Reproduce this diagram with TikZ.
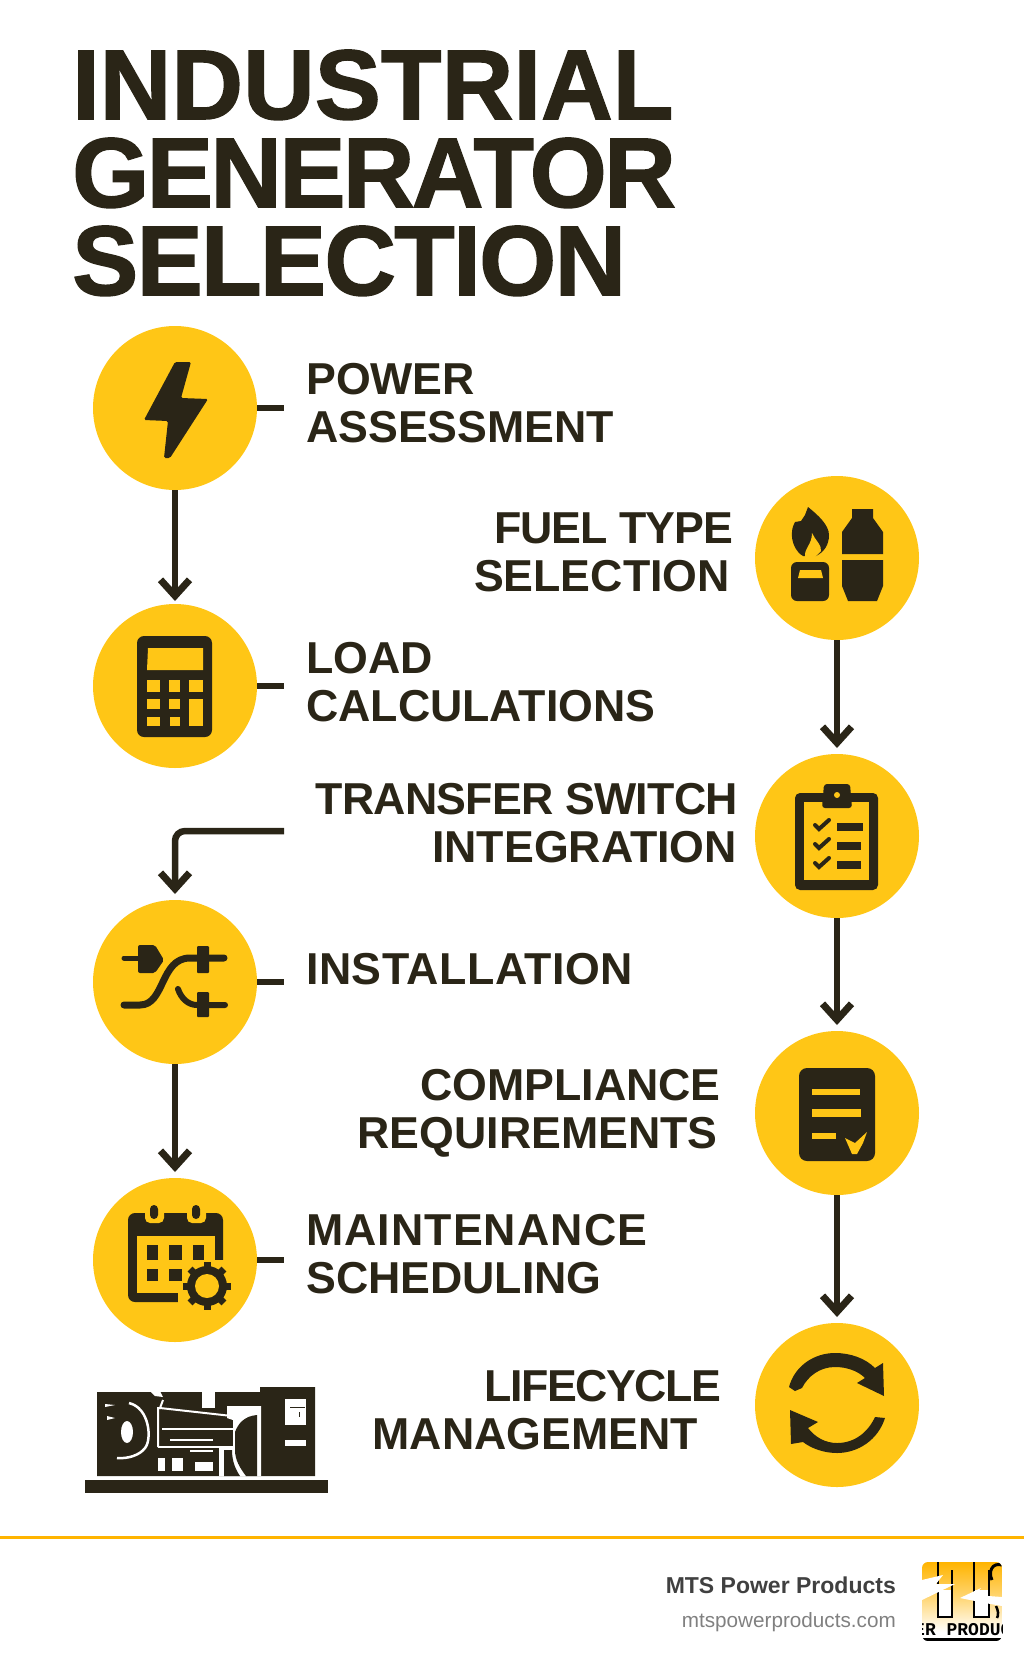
\documentclass[tikz,border=0pt]{standalone}
\usepackage{fontspec}
\setmainfont{Liberation Sans}
\newfontfamily\titlefont[BoldFeatures={FakeBold=1.5}]{Liberation Sans}
\newfontfamily\logofont{Liberation Mono}
\usetikzlibrary{arrows.meta}
\definecolor{genyellow}{HTML}{FFC616}
\definecolor{gendark}{HTML}{2A2517}
\definecolor{genrule}{HTML}{FFB400}
\newcommand\spaced[2]{{\addfontfeature{LetterSpace=#1}#2}}
\tikzset{
  stepdot/.style={circle,fill=genyellow,minimum size=164pt,inner sep=0pt,outer sep=0pt},
  steptext/.style={font=\fontsize{44.7}{47.8}\selectfont\bfseries,text=gendark,inner sep=0pt},
  titletext/.style={font=\fontsize{99}{88}\selectfont\titlefont\bfseries,text=gendark,inner sep=0pt,align=left},
  stub/.style={draw=gendark,line width=6pt},
  flow/.style={draw=gendark,line width=6.5pt,shorten >=6pt,-{Straight Barb[length=16pt,width=29pt,line width=7pt]}},
  icon/.style={fill=gendark,draw=none},
  hole/.style={fill=genyellow,draw=none},
}
\begin{document}
\begin{tikzpicture}[x=1pt,y=-1pt]
\useasboundingbox (0,0) rectangle (1024,1666);

\node (title) at (72,295)[titletext,anchor=base west]{\spaced{0.2}{INDUSTRIAL}\\\spaced{-2.5}{GENERATOR}\\\spaced{-1.6}{SELECTION}};

% left column
\node (power) at (175,408)[stepdot]{};
\node (load) at (175,686)[stepdot]{};
\node (install) at (175,982)[stepdot]{};
\node (maint) at (175,1260)[stepdot]{};
% right column
\node (fuel) at (837,558)[stepdot]{};
\node (switch) at (837,836)[stepdot]{};
\node (comply) at (837,1113)[stepdot]{};
\node (life) at (837,1405)[stepdot]{};

\node (powertext) at (306,442)[steptext,anchor=base west,align=left]{POWER\\ASSESSMENT};
\node (loadtext) at (306,721)[steptext,anchor=base west,align=left]{LOAD\\CALCULATIONS};
\node (installtext) at (306,984)[steptext,anchor=base west,align=left]{\spaced{1.2}{INSTALLATION}};
\node (mainttext) at (306,1293)[steptext,anchor=base west,align=left]{\spaced{2.4}{MAINTENANCE}\\SCHEDULING};
\node (fueltext) at (733,591)[steptext,anchor=base east,align=right]{\spaced{-2.4}{FUEL TYPE}\\SELECTION\hspace*{3pt}};
\node (switchtext) at (738,862)[steptext,anchor=base east,align=right]{\spaced{-1.7}{TRANSFER SWITCH}\\INTEGRATION\hspace*{1pt}};
\node (complytext) at (721,1148)[steptext,anchor=base east,align=right]{COMPLIANCE\\REQUIREMENTS\hspace*{3pt}};
\node (lifetext) at (721,1449)[steptext,anchor=base east,align=right]{\spaced{-3.5}{LIFECYCLE}\\MANAGEMENT\hspace*{23pt}};

\coordinate (powerstub) at (284,408);
\coordinate (loadstub) at (284,686);
\coordinate (installstub) at (284,982);
\coordinate (maintstub) at (284,1260);
\coordinate (switchout) at (284,831);
\coordinate (switchbend) at (175,831);
\draw[stub] (power.east)--(powerstub);
\draw[stub] (load.east)--(loadstub);
\draw[stub] (install.east)--(installstub);
\draw[stub] (maint.east)--(maintstub);
\draw[flow,shorten >=3pt] (power)--(load);
\draw[flow] (install)--(maint);
\draw[flow,rounded corners=10pt] (switchout)--(switchbend)--(install.north);
\draw[flow] (fuel)--(switch);
\draw[flow] (switch)--(comply);
\draw[flow] (comply)--(life);

% bolt
\fill[icon,rounded corners=1.5pt] (175,362)--(191,362)--(181,398)--(208,399)--(170,458)--(164,458)--(168,421)--(144,420)--cycle;

% calculator
\fill[icon,rounded corners=7pt] (137,636) rectangle (212,737);
\fill[hole] (148,648)--(203,648)--(203,670)--(147,670)--cycle;
\fill[hole] (147,680) rectangle (160,692);
\fill[hole] (169,680) rectangle (180,692);
\fill[hole] (189,680) rectangle (203,692);
\fill[hole] (147,699) rectangle (160,709);
\fill[hole] (169,699) rectangle (180,709);
\fill[hole] (189,699) rectangle (203,726);
\fill[hole] (147,717) rectangle (160,726);
\fill[hole] (170,717) rectangle (180,726);

% flame and bottle
\fill[icon] (808,507)..controls (818,515) and (829,525)..(829,535)..controls (829,545) and (824,552)..(816,556)--(803,556)..controls (796,552) and (791,542)..(792,532)..controls (792,528) and (794,524)..(795,522)--(801,521)--(805,515)--cycle;
\fill[hole] (812,533)..controls (815,540) and (822,545)..(821,551)--(815,557)--(805,557)..controls (804,548) and (812,545)..(812,533)--cycle;
\fill[icon,rounded corners=6pt] (791,601)--(791,562)--(829,562)--(829,601)--cycle;
\fill[hole] (800,570)--(821,570)--(823,578)--(798,578)--cycle;
\fill[icon] (852,509)--(873,509)--(873,518)--(883,532)--(883,554)--(842,554)--(842,532)--(852,518)--cycle;
\fill[icon] (842,560)--(883,560)--(883,586)--(877,601)--(848,601)--(842,586)--cycle;

% clipboard
\fill[icon,rounded corners=5pt] (795,793) rectangle (878,890);
\fill[hole] (804,802) rectangle (869,880);
\fill[icon,rounded corners=3pt] (824,784)--(850,784)--(852,808)--(822,808)--cycle;
\fill[hole] (837,795) circle[radius=3pt];
\draw[gendark,line width=4pt,line cap=round] (815,825)--(819,829)--(829,820);
\draw[gendark,line width=4pt,line cap=round] (815,844)--(819,848)--(829,839);
\draw[gendark,line width=4pt,line cap=round] (815,863)--(819,867)--(829,858);
\fill[icon] (837,823) rectangle (863,831);
\fill[icon] (837,842) rectangle (861,850);
\fill[icon] (837,861) rectangle (861,869);

% plugs
\draw[gendark,line width=5pt,line cap=round] (124,958)--(140,958);
\fill[icon,rounded corners=2pt] (138,945)--(155,945)--(164,960)--(155,973)--(138,973)--cycle;
\draw[gendark,line width=7pt,line cap=round] (124,1005)--(140,1005)..controls (165,1005) and (160,958)..(190,958)--(224,958);
\draw[gendark,line width=6pt,line cap=round] (178,989)..controls (181,998) and (188,1005)..(197,1005)--(225,1005);
\fill[icon,rounded corners=1pt] (197,946) rectangle (209,973);
\fill[icon,rounded corners=1pt] (197,992) rectangle (209,1017);

% calendar
\fill[icon,rounded corners=7pt] (128,1213) rectangle (223,1302);
\fill[hole] (137,1236) rectangle (215,1293);
\fill[hole] (215,1260) rectangle (224,1295);
\fill[hole] (178,1293) rectangle (224,1303);
\fill[hole,rounded corners=5pt] (145,1203) rectangle (164,1223);
\fill[hole,rounded corners=5pt] (187,1203) rectangle (206,1223);
\fill[icon,rounded corners=4pt] (150,1205) rectangle (158,1219);
\fill[icon,rounded corners=4pt] (192,1205) rectangle (200,1219);
\fill[icon] (147,1245) rectangle (158,1260);
\fill[icon] (169,1245) rectangle (182,1260);
\fill[icon] (193,1245) rectangle (204,1260);
\fill[icon] (147,1269) rectangle (158,1281);
\fill[icon] (169,1269) rectangle (182,1281);
\fill[hole] (207,1286) circle[radius=25pt];
\foreach \a in {0,45,...,315}
  \draw[gendark,line width=7pt] (207,1286)--++(\a:24);
\fill[icon] (207,1286) circle[radius=20pt];
\fill[hole] (207,1286) circle[radius=12pt];

% document
\fill[icon,rounded corners=8pt] (799,1068) rectangle (875,1161);
\fill[hole] (812,1089) rectangle (860,1095);
\fill[hole] (812,1109) rectangle (861,1117);
\fill[hole] (812,1133) rectangle (836,1139);
\fill[hole] (845,1138)--(855,1143)--(867,1132)--(863,1143)--(857,1154)--(852,1154)--cycle;

% cycle arrows
\fill[icon] (789,1387)..controls (795,1365) and (815,1353)..(835,1353)..controls (850,1353) and (865,1358)..(875,1368)--(883,1363)--(884,1396)--(857,1383)--(865,1378)..controls (858,1371) and (847,1367)..(835,1367)..controls (820,1367) and (808,1376)..(802,1388)--(795,1391)--cycle;
\fill[icon] (885,1418)..controls (878,1440) and (858,1453)..(837,1453)..controls (825,1453) and (812,1449)..(803,1442)--(791,1444)--(790,1410)--(818,1422)--(808,1428)..controls (815,1437) and (825,1443)..(837,1443)..controls (855,1443) and (868,1432)..(875,1417)--cycle;

% generator
\fill[icon] (97,1392)--(260,1392)--(260,1387)--(315,1387)--(315,1476)--(97,1476)--cycle;
\fill[icon] (85,1480) rectangle (328,1493);
\fill[white] (202,1391) rectangle (215,1408);
\fill[white] (150,1391)--(160,1391)--(163,1397)--(155,1396)--cycle;
\draw[white,line width=2.5pt] (129,1403)..controls (150,1408) and (152,1440)..(145,1448)..controls (140,1455) and (128,1459)..(117,1458);
\fill[white] (127,1432) ellipse[x radius=6pt,y radius=11pt];
\fill[white] (105,1404)--(115,1405)--(105,1407)--cycle;
\fill[white] (107,1416)--(115,1418)--(107,1420)--cycle;
\draw[white,line width=2pt] (163,1400)--(160,1408)--(158,1408)--(158,1447);
\draw[white,line width=2pt] (160,1408)--(232,1416);
\draw[white,line width=2.5pt] (162,1429)--(233,1429);
\draw[white,line width=1.5pt] (170,1440)--(213,1440);
\draw[white,line width=1.5pt] (158,1447)--(222,1447);
\draw[white,line width=1.5pt] (190,1451)--(213,1451);
\fill[white] (158,1458) rectangle (165,1471);
\fill[white] (172,1458) rectangle (183,1471);
\fill[white] (195,1462) rectangle (213,1471);
\fill[white] (227,1406)--(261,1406)--(261,1476)--(219,1476)--(219,1446)--(233,1446)--(233,1420)--(227,1418)--cycle;
\fill[icon] (224,1450)--(232,1450)..controls (232,1462) and (236,1470)..(240,1476)--(224,1476)--cycle;
\fill[icon] (235,1432)..controls (238,1424) and (244,1416)..(257,1415)--(257,1476)--(246,1476)..controls (240,1468) and (235,1460)..(235,1450)--cycle;
\fill[white] (285,1399) rectangle (306,1425);
\fill[white] (285,1440) rectangle (306,1446);
\draw[gendark,line width=1pt] (290,1407)--(305,1407);
\draw[gendark,line width=1pt] (299,1412)--(299,1417);

\draw[genrule,line width=3pt] (0,1537)--(1024,1537);
\node (company) at (896,1593)[anchor=base east,inner sep=0pt,font=\fontsize{23}{23}\selectfont\bfseries,text=black!75]{MTS Power Products};
\node (site) at (896,1627)[anchor=base east,inner sep=0pt,font=\fontsize{20.7}{21}\selectfont,text=black!50]{mtspowerproducts.com};

% logo
\begin{scope}
\clip[rounded corners=6pt] (922,1562) rectangle (1002,1641);
\shade[top color=genrule,bottom color=white,middle color=genrule!55] (922,1562) rectangle (1002,1632);
\fill[white] (922,1632) rectangle (1002,1641);
\fill[black] (922,1638) rectangle (1002,1641);
\fill[white] (939,1590) rectangle (951,1616);
\fill[white] (975,1590) rectangle (988,1616);
\draw[black,line width=2.5pt] (938,1562)--(938,1617)--(952,1617)--(952,1570);
\draw[black,line width=2.5pt] (974,1562)--(974,1617)--(989,1617)--(989,1570);
\draw[black,line width=3pt] (1002,1565)..controls (992,1562) and (988,1572)..(992,1580);
\draw[black,line width=2.5pt] (996,1606)..controls (998,1610) and (999,1615)..(997,1618);
\fill[white] (922,1580)--(943,1575)--(936,1584)--(955,1584)--(922,1600)--cycle;
\fill[white] (960,1598)--(981,1588)--(975,1595)--(1002,1597)--(1002,1606)--(985,1603)--cycle;
\node (logotext) at (914,1635)[anchor=base west,inner sep=0pt,font=\fontsize{18}{18}\selectfont\logofont\bfseries,text=black]{ER PRODUC};
\end{scope}
\end{tikzpicture}
\end{document}
